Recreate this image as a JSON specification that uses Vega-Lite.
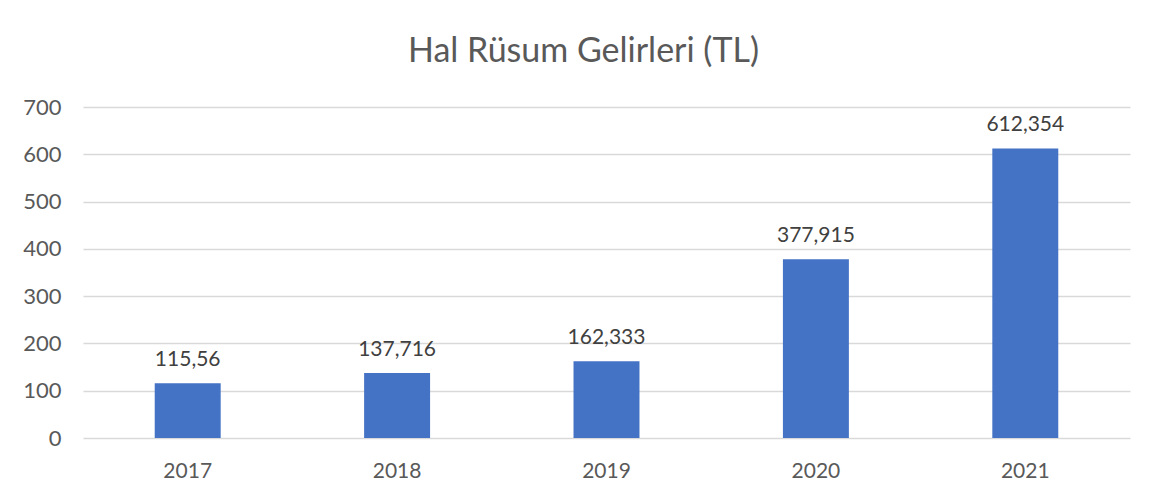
{
  "$schema": "https://vega.github.io/schema/vega-lite/v6.json",
  "width": 1047,
  "height": 331,
  "autosize": {"type": "none"},
  "padding": {"left": 83, "top": 107, "right": 24, "bottom": 57},
  "background": "white",
  "title": {
    "text": "Hal Rüsum Gelirleri (TL)",
    "font": "Lato",
    "fontSize": 34,
    "fontWeight": "normal",
    "color": "#595959",
    "anchor": "middle",
    "dx": -23,
    "offset": 27
  },
  "data": {
    "values": [
      {"yil": "2017", "deger": 115.56, "etiket": "115,56"},
      {"yil": "2018", "deger": 137.716, "etiket": "137,716"},
      {"yil": "2019", "deger": 162.333, "etiket": "162,333"},
      {"yil": "2020", "deger": 377.915, "etiket": "377,915"},
      {"yil": "2021", "deger": 612.354, "etiket": "612,354"}
    ]
  },
  "encoding": {
    "x": {
      "field": "yil",
      "type": "nominal",
      "title": null,
      "scale": {"paddingInner": 0.685, "paddingOuter": 0.3425},
      "axis": {
        "labelAngle": 0,
        "domain": false,
        "ticks": false,
        "labelPadding": 22,
        "labelFont": "Lato",
        "labelFontSize": 21,
        "labelColor": "#595959"
      }
    },
    "y": {
      "field": "deger",
      "type": "quantitative",
      "title": null,
      "scale": {"domain": [0, 700]},
      "axis": {
        "values": [0, 100, 200, 300, 400, 500, 600, 700],
        "domain": false,
        "ticks": false,
        "labelPadding": 22,
        "labelFont": "Lato",
        "labelFontSize": 22,
        "labelColor": "#595959",
        "gridColor": "#d9d9d9",
        "gridWidth": 1.3
      }
    }
  },
  "layer": [
    {"mark": {"type": "bar", "color": "#4472c4"}},
    {
      "mark": {
        "type": "text",
        "baseline": "alphabetic",
        "dy": -17,
        "font": "Lato",
        "fontSize": 21,
        "color": "#404040"
      },
      "encoding": {"text": {"field": "etiket"}}
    }
  ],
  "config": {"view": {"stroke": null}}
}
